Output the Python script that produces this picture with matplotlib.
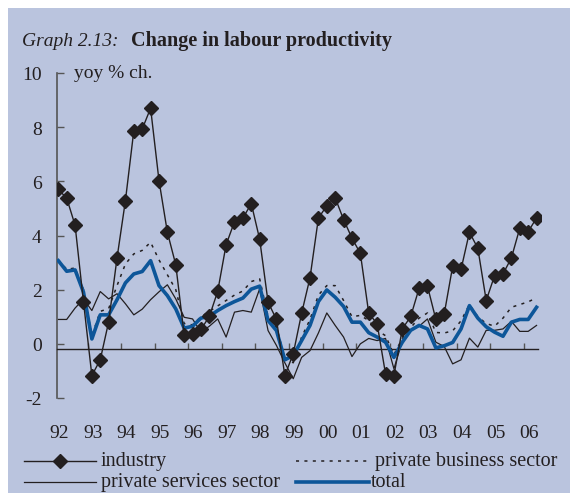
import numpy as np
import matplotlib
matplotlib.use("Agg")
import matplotlib.pyplot as plt
from matplotlib.lines import Line2D
from matplotlib.patches import Rectangle
import matplotlib.transforms as mtransforms

plt.rcParams['font.family'] = ['Liberation Serif', 'DejaVu Serif']
plt.rcParams['axes.unicode_minus'] = False

# quarterly data, 1992Q1 .. 2006Q2 (yoy % change)
industry = [5.70, 5.38, 4.38, 1.55, -1.17, -0.59, 0.81, 3.17, 5.29, 7.87, 7.93, 8.70,
            6.03, 4.12, 2.92, 0.33, 0.37, 0.53, 1.01, 1.94, 3.66, 4.51, 4.64, 5.18,
            3.86, 1.54, 0.90, -1.17, -0.37, 1.13, 2.44, 4.64, 5.10, 5.39, 4.59, 3.90,
            3.34, 1.13, 0.74, -1.11, -1.17, 0.55, 1.01, 2.05, 2.13, 0.90, 1.11, 2.86,
            2.75, 4.12, 3.53, 1.60, 2.52, 2.58, 3.17, 4.27, 4.14, 4.65]
business = [3.10, 2.75, 2.80, 2.00, 0.30, 1.20, 1.30, 2.15, 2.95, 3.32, 3.45, 3.75,
            3.10, 2.55, 2.00, 0.75, 0.70, 1.00, 1.20, 1.40, 1.60, 1.80, 1.95, 2.30,
            2.40, 1.00, 0.60, -0.50, -0.70, 0.25, 0.90, 1.80, 2.15, 2.15, 1.60, 1.00,
            1.05, 0.86, 0.50, 0.30, -0.40, 0.20, 0.60, 0.95, 1.14, 0.42, 0.40, 0.48,
            0.85, 1.45, 1.00, 0.75, 0.65, 0.95, 1.35, 1.45, 1.55, 1.70]
services = [0.90, 0.90, 1.32, 1.65, 1.23, 1.93, 1.66, 1.85, 1.48, 1.07, 1.28, 1.63,
            1.92, 2.18, 1.66, 0.98, 0.92, 0.43, 0.65, 0.92, 0.25, 1.17, 1.23, 1.17,
            2.03, 0.49, -0.06, -0.70, -1.29, -0.50, -0.25, 0.40, 1.14, 0.68, 0.25, -0.47,
            0.00, 0.20, 0.12, 0.20, -0.92, 0.10, 0.49, 0.65, 0.92, 0.06, -0.10, -0.74,
            -0.59, 0.21, -0.12, 0.50, 0.50, 0.55, 0.83, 0.46, 0.46, 0.68]
total = [3.07, 2.68, 2.73, 1.91, 0.18, 1.07, 1.07, 1.63, 2.25, 2.58, 2.67, 3.07,
         2.15, 1.78, 1.29, 0.58, 0.65, 0.95, 1.02, 1.23, 1.41, 1.56, 1.69, 2.02,
         2.13, 0.86, 0.49, -0.59, -0.43, 0.12, 0.68, 1.56, 1.99, 1.72, 1.38, 0.80,
         0.80, 0.41, 0.25, 0.06, -0.50, 0.06, 0.50, 0.68, 0.55, -0.15, -0.07, 0.05,
         0.55, 1.41, 0.95, 0.63, 0.43, 0.28, 0.80, 0.90, 0.90, 1.35]
year_labels = ['92', '93', '94', '95', '96', '97', '98', '99', '00', '01', '02', '03', '04', '05', '06']

BG = '#BAC4DE'
INK = '#231F20'
BLUE = '#0D5699'
W, H = 570, 502
FS = 14

def fx(x):
    return x / W

def fy(y):
    return 1 - y / H

fig = plt.figure(figsize=(5.7, 5.02), dpi=100)
fig.patch.set_facecolor('white')
fig.patches.append(Rectangle((fx(8), fy(494)), 1 - fx(8), fy(9) - fy(494),
                             transform=fig.transFigure, facecolor=BG, edgecolor='none',
                             zorder=-10))

ax = fig.add_axes([fx(57), fy(399), fx(541) - fx(57), fy(74) - fy(399)])
ax.set_facecolor('none')
ax.set_zorder(5)

q = np.arange(len(industry))
ax.plot(q, services, color=INK, lw=0.9, zorder=2)
ax.plot(q, business, color=INK, lw=1.1, ls=(0, (2, 3.5)), zorder=2)
ax.plot(q, total, color=BLUE, lw=2.6, zorder=3)
ax.plot(q, industry, color=INK, lw=1.0, marker='D', ms=6.8, mfc=INK, mec=INK, zorder=4)

ax.set_xlim(-0.155, 57.53)
ax.set_ylim(-2, 10)

for s in ['top', 'right']:
    ax.spines[s].set_visible(False)
ax.spines['left'].set_color('#555555')
ax.spines['left'].set_linewidth(1.2)
ax.spines['bottom'].set_position(('data', -0.18))
ax.spines['bottom'].set_bounds(-0.155, 57.2)
ax.spines['bottom'].set_color(INK)
ax.spines['bottom'].set_linewidth(1.0)

ax.set_yticks(np.arange(-2, 11, 2))
ax.tick_params(axis='y', direction='in', length=5, width=1.0, color='#555555',
               labelsize=FS, labelcolor=INK, pad=11)
ax.set_xticks(np.arange(3.5, 56, 4))
ax.tick_params(axis='x', direction='in', length=4, width=1.0, color='#555555',
               labelbottom=False)

trans = mtransforms.blended_transform_factory(ax.transData, fig.transFigure)
for k, lab in enumerate(year_labels):
    ax.text(4 * k + 0.1, fy(434), lab, transform=trans, ha='center', va='center',
            fontsize=FS, color=INK, clip_on=False)

# titles
fig.text(fx(22), fy(46), 'Graph 2.13:', style='italic', fontsize=FS, color=INK, va='baseline')
fig.text(fx(131), fy(46), 'Change in labour productivity', weight='bold', fontsize=14.5,
         color=INK, va='baseline')
fig.text(fx(74), fy(74), 'yoy % ch.', fontsize=FS, color=INK, va='center')

# legend
def leg_line(x0, x1, y, **kw):
    fig.lines.append(Line2D([fx(x0), fx(x1)], [fy(y), fy(y)], transform=fig.transFigure, **kw))

leg_line(24, 96, 462, color=INK, lw=1.0)
fig.lines.append(Line2D([fx(60)], [fy(462)], transform=fig.transFigure, marker='D',
                        ms=6.8, color=INK))
fig.text(fx(101), fy(462), 'industry', fontsize=14.5, color=INK, va='center')
leg_line(296, 370, 462, color=INK, lw=1.1, ls=(0, (2, 3.5)))
fig.text(fx(375), fy(462), 'private business sector', fontsize=14.5, color=INK, va='center')
leg_line(24, 96, 483, color=INK, lw=0.9)
fig.text(fx(101), fy(483), 'private services sector', fontsize=14.5, color=INK, va='center')
leg_line(296, 369, 483, color=BLUE, lw=2.6)
fig.text(fx(371), fy(483), 'total', fontsize=14.5, color=INK, va='center')

fig.savefig('out.png', dpi=100, facecolor=fig.get_facecolor())
